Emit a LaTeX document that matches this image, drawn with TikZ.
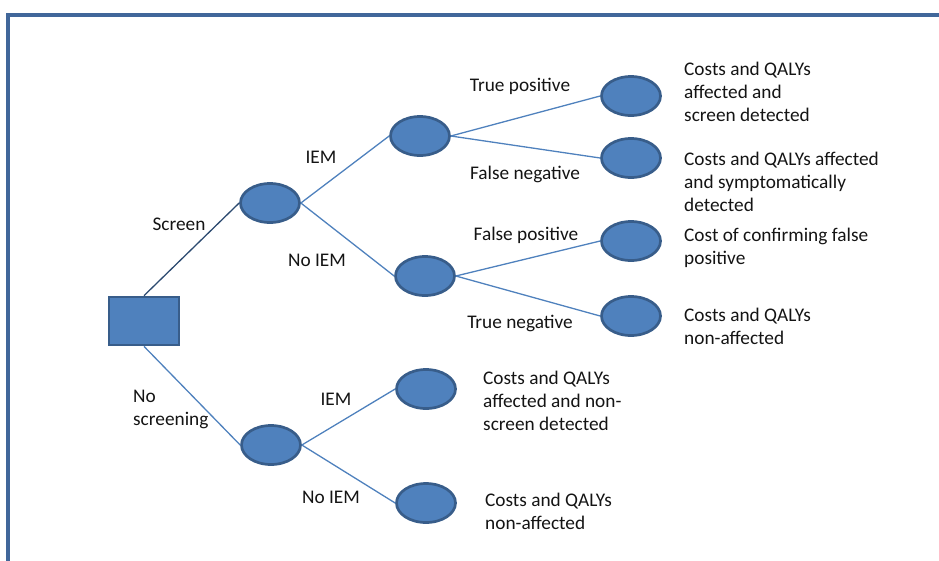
\documentclass[tikz,border=0pt]{standalone}
\usepackage{fontspec}
\setmainfont{Carlito}
\usetikzlibrary{shapes.geometric}
\definecolor{nodefill}{HTML}{4F81BD}
\definecolor{nodeline}{HTML}{385D8A}
\definecolor{branch}{HTML}{4F81BD}
\definecolor{darkbranch}{HTML}{2C4A70}
\definecolor{frame}{HTML}{41679A}
\definecolor{txt}{HTML}{141414}
\tikzset{
  chance/.style={ellipse, fill=nodefill, draw=nodeline, line width=2.7pt, minimum width=59pt, minimum height=39pt, inner sep=0pt},
  decision/.style={rectangle, fill=nodefill, draw=nodeline, line width=2.7pt, minimum width=70pt, minimum height=48pt, inner sep=0pt},
  branchline/.style={draw=branch, line width=1.3pt},
  lbl/.style={text=txt, inner sep=0pt, font=\fontsize{19.3}{23}\selectfont},
  outcome/.style={text=txt, inner sep=0pt, anchor=west, align=left, font=\fontsize{19.3}{23}\selectfont},
}
\begin{document}
\begin{tikzpicture}[x=1pt,y=-1pt]
\useasboundingbox (0,0) rectangle (939,560);
\draw[frame, line width=3.2pt] (8,561) -- (8,15) -- (940,15);

% nodes
\node[decision] (sq) at (144,321) {};
\node[chance] (a) at (270,203) {};
\node[chance] (b) at (420,136) {};
\node[chance] (c) at (425,276) {};
\node[chance] (tp) at (631,96) {};
\node[chance] (fn) at (631,158) {};
\node[chance] (fp) at (631,241) {};
\node[chance] (tn) at (631,316) {};
\node[chance] (d) at (271,445) {};
\node[chance] (e) at (426,389) {};
\node[chance] (f) at (426,503) {};

% connectors
\draw[draw=darkbranch, line width=1.3pt] (sq.north) -- (a.west);
\draw[branchline] (sq.south) -- (d.west);
\draw[branchline] (a.east) -- (b.west);
\draw[branchline] (a.east) -- (c.west);
\draw[branchline] (b.east) -- (tp.west);
\draw[branchline] (b.east) -- (fn.west);
\draw[branchline] (c.east) -- (fp.west);
\draw[branchline] (c.east) -- (tn.west);
\draw[branchline] (d.east) -- (e.west);
\draw[branchline] (d.east) -- (f.west);

% branch labels
\node[lbl] (lscreen) at (179,224) {Screen};
\node[lbl, anchor=west, align=left] (lnoscr) at (133,409) {No\\screening};
\node[lbl] (liem1) at (321,157) {IEM};
\node[lbl] (lnoiem1) at (317,260) {No IEM};
\node[lbl] (ltp) at (520,86) {True positive};
\node[lbl] (lfn) at (525,174) {False negative};
\node[lbl] (lfp) at (526,235) {False positive};
\node[lbl] (ltn) at (520,323) {True negative};
\node[lbl] (liem2) at (336,399) {IEM};
\node[lbl] (lnoiem2) at (331,497) {No IEM};

% outcomes
\node[outcome] (o1) at (684,92) {Costs and QALYs\\affected and\\screen detected};
\node[outcome] (o2) at (684,182) {Costs and QALYs affected\\and symptomatically\\detected};
\node[outcome] (o3) at (684,248) {Cost of confirming false\\positive};
\node[outcome] (o4) at (684,326) {Costs and QALYs\\non-affected};
\node[outcome] (o5) at (483,401) {Costs and QALYs\\affected and non-\\screen detected};
\node[outcome] (o6) at (485,511) {Costs and QALYs\\non-affected};
\end{tikzpicture}
\end{document}
